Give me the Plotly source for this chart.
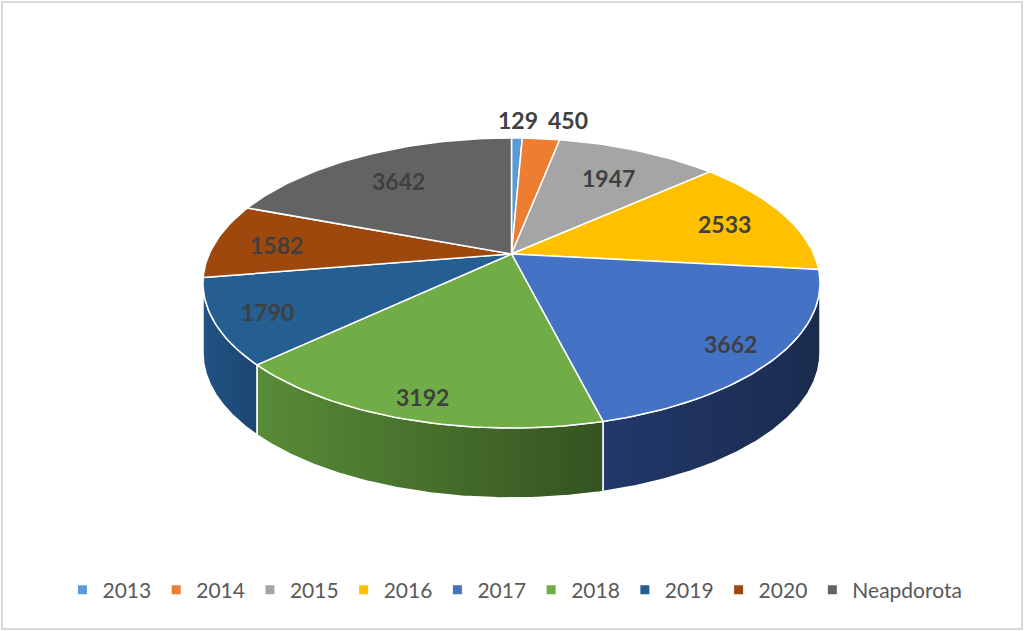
import numpy as np
import plotly.graph_objects as go

# данные круговой диаграммы
years = ['2013', '2014', '2015', '2016', '2017', '2018', '2019', '2020', 'Neapdorota']
counts = [129, 450, 1947, 2533, 3662, 3192, 1790, 1582, 3642]
top_colors = ['#5B9BD5', '#ED7D31', '#A5A5A5', '#FFC000', '#4472C4',
              '#70AD47', '#255E91', '#9E480E', '#636363']
side_colors = [('#3e78b0', '#30608e'), ('#c45f1c', '#9e4a14'), ('#8a8a8a', '#6e6e6e'),
               ('#d9a300', '#b38600'), ('#22386a', '#1a2b4e'), ('#588c37', '#355321'),
               ('#215283', '#1c4672'), ('#86400f', '#6c330b'), ('#555555', '#444444')]

# геометрия "3D" круга в пикселях
cx, cy, rx, ry, depth = 511.5, 283, 308.5, 145, 70
a = 0.2  # смещение центра (перспектива)
FONT = 'Lato'


def project(r, theta):
    # theta - по часовой стрелке от 12 часов
    u = r * np.sin(theta)
    v = -r * np.cos(theta)
    k = 1 - a * v
    up = u * np.sqrt(1 - a * a) / k
    vp = (v - a) / k
    return cx + rx * up, cy + ry * vp


total = sum(counts)
bounds = np.concatenate([[0], np.cumsum(counts)]) / total * 2 * np.pi
vis0 = np.arccos(-a)
vis1 = 2 * np.pi - vis0

fig = go.Figure()

# боковые стенки
for i, name in enumerate(years):
    t0, t1 = max(bounds[i], vis0), min(bounds[i + 1], vis1)
    if t1 <= t0:
        continue
    th = np.linspace(t0, t1, 120)
    xs, ys = project(1.0, th)
    px = np.concatenate([xs, xs[::-1], xs[:1]])
    py = np.concatenate([ys, ys[::-1] + depth, ys[:1]])
    fig.add_trace(go.Scatter(
        x=px, y=py, mode='lines', fill='toself',
        fillgradient=dict(type='horizontal',
                          colorscale=[[0, side_colors[i][0]], [1, side_colors[i][1]]]),
        line=dict(color='white', width=1.5), hoverinfo='skip', showlegend=False))

# верхняя грань
ax_, ay_ = project(0.0, 0.0)
for i, name in enumerate(years):
    th = np.linspace(bounds[i], bounds[i + 1], max(4, int(300 * counts[i] / total)))
    xs, ys = project(1.0, th)
    px = np.concatenate([[ax_], xs, [ax_]])
    py = np.concatenate([[ay_], ys, [ay_]])
    fig.add_trace(go.Scatter(
        x=px, y=py, mode='lines', fill='toself', fillcolor=top_colors[i],
        line=dict(color='white', width=1.5), hoverinfo='text',
        text=f'{name}: {counts[i]}', showlegend=False))

# подписи значений
for i, name in enumerate(years):
    mid = (bounds[i] + bounds[i + 1]) / 2
    share = counts[i] / total
    if share < 0.05:
        lx, ly = project(1.22, mid)
        xanchor = 'center' if abs(lx - cx) < 15 else ('left' if lx > cx else 'right')
    else:
        lx, ly = project(0.8 - 0.08 * np.cos(mid), mid)
        xanchor = 'center'
    fig.add_annotation(x=lx, y=ly, text=f'<b>{counts[i]}</b>', showarrow=False,
                       xanchor=xanchor, yanchor='middle', yshift=-2,
                       font=dict(family=FONT, size=23, color='#404040'))

# легенда
for i, name in enumerate(years):
    fig.add_trace(go.Scatter(x=[None], y=[None], mode='markers', name=name,
                             marker=dict(symbol='square', size=9, color=top_colors[i])))

fig.add_shape(type='rect', xref='paper', yref='paper', x0=0.002, y0=0.003, x1=0.998, y1=0.997,
              line=dict(color='#d9d9d9', width=2))

fig.update_layout(
    width=1024, height=631,
    margin=dict(l=0, r=0, t=0, b=0),
    paper_bgcolor='white', plot_bgcolor='white',
    xaxis=dict(range=[0, 1024], visible=False, fixedrange=True),
    yaxis=dict(range=[631, 0], visible=False, fixedrange=True),
    legend=dict(orientation='h', x=0.061, y=0.065, xanchor='left', yanchor='middle',
                font=dict(family=FONT, size=21, color='#595959'),
                itemwidth=30, bgcolor='rgba(0,0,0,0)'),
    font=dict(family=FONT),
)

fig.write_html('out.html', config={'displayModeBar': False},
               post_script="document.body.style.margin='0';")
